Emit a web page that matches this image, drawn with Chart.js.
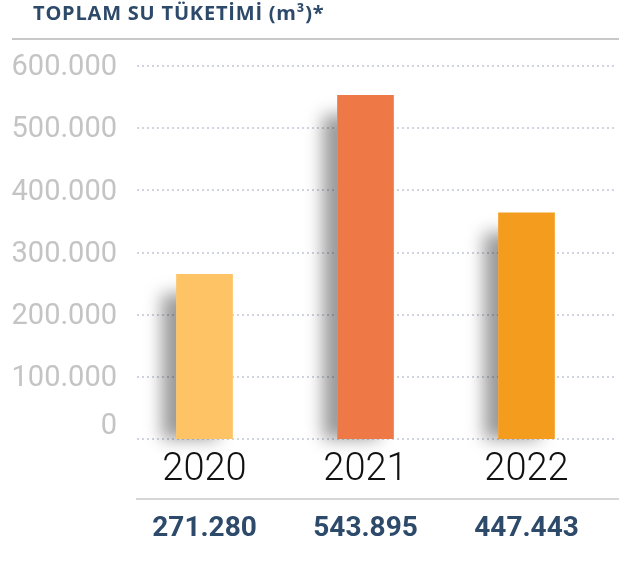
<!DOCTYPE html>
<html>
<head>
<meta charset="utf-8">
<script src="https://cdn.jsdelivr.net/npm/chart.js@4/dist/chart.umd.min.js"></script>
<style>
  body { margin: 0; background: #fff; }
  .wrap { position: relative; width: 619px; height: 568px; }
  .title {
    position: absolute; left: 33px; top: 3px;
    font: bold 20px/20px "Open Sans", sans-serif; color: #2d4a6b;
    letter-spacing: 0.8px;
  }
  .title-line {
    position: absolute; left: 12px; top: 38px; width: 607px; height: 2px;
    background: #c8c8c8;
  }
  canvas { position: absolute; left: 0; top: 0; }
</style>
</head>
<body>
<div class="wrap">
  <canvas id="chart" width="619" height="568"></canvas>
  <div class="title">TOPLAM SU TÜKETİMİ (m³)*</div>
  <div class="title-line"></div>
</div>
<script>
const years = ['2020', '2021', '2022'];
// bar heights as drawn in the picture
const barValues = [265000, 553000, 364000];
// totals printed under the years
const totalLabels = ['271.280', '543.895', '447.443'];
const barColors = ['#fdc364', '#ee7846', '#f49c1d'];

function fmt(v) {
  return String(v).replace(/\B(?=(\d{3})+(?!\d))/g, '.');
}

// dotted grid lines, drawn from the y scale ticks
const dottedGrid = {
  id: 'dottedGrid',
  beforeDatasetsDraw(chart) {
    const ctx = chart.ctx;
    const y = chart.scales.y;
    const left = chart.chartArea.left + 13;
    ctx.save();
    ctx.strokeStyle = '#cfd4de';
    ctx.lineWidth = 2;
    ctx.setLineDash([2, 3]);
    y.ticks.forEach((t) => {
      const py = Math.round(y.getPixelForValue(t.value));
      ctx.beginPath();
      ctx.moveTo(left, py);
      ctx.lineTo(chart.width - 2, py);
      ctx.stroke();
    });
    ctx.restore();

    // soft shadow on the left of each bar
    chart.getDatasetMeta(0).data.forEach((bar) => {
      const l = bar.x - bar.width / 2;
      const top = bar.y + 20;
      ctx.save();
      ctx.shadowColor = 'rgba(0,0,0,0.4)';
      ctx.shadowBlur = 16;
      ctx.shadowOffsetX = -15;
      ctx.fillStyle = '#ffffff';
      ctx.fillRect(l, top, bar.width, bar.base - top);
      ctx.restore();
    });
  },
  afterDraw(chart) {
    // separator between years and totals
    const ctx = chart.ctx;
    const x2 = chart.scales.x2;
    ctx.save();
    ctx.strokeStyle = '#c8c8c8';
    ctx.lineWidth = 1.5;
    ctx.beginPath();
    ctx.moveTo(chart.chartArea.left + 12, x2.top);
    ctx.lineTo(chart.width, x2.top);
    ctx.stroke();
    ctx.restore();
  },
};

new Chart(document.getElementById('chart'), {
  type: 'bar',
  data: {
    labels: years,
    datasets: [
      {
        data: barValues,
        backgroundColor: barColors,
        barThickness: 56,
      },
    ],
  },
  plugins: [dottedGrid],
  options: {
    responsive: false,
    animation: false,
    layout: {
      padding: { left: 0, right: 12, top: 66, bottom: 19 },
    },
    plugins: {
      legend: { display: false },
      tooltip: { enabled: false },
    },
    scales: {
      y: {
        min: 0,
        max: 600000,
        grid: { display: false, drawTicks: false },
        border: { display: false },
        afterFit: (s) => { s.width = 124; },
        ticks: {
          stepSize: 100000,
          padding: 7,
          labelOffset: 2,
          color: '#c4c4c4',
          font: { family: 'Roboto', size: 29, lineHeight: 1 },
          // zero sits a bit above its line, as in the original
          callback: (v) => (v === 0 ? ['0', ''] : fmt(v)),
        },
      },
      x: {
        grid: { display: false, drawTicks: false },
        border: { display: false },
        afterFit: (s) => { s.height = 60; },
        ticks: {
          padding: 9,
          color: '#111111',
          font: { family: 'Roboto', size: 38, weight: '300', lineHeight: 1.2 },
        },
      },
      x2: {
        type: 'category',
        position: 'bottom',
        labels: totalLabels,
        offset: true,
        grid: { display: false, drawTicks: false },
        border: { display: false },
        afterFit: (s) => { s.height = 50; },
        ticks: {
          padding: 13,
          color: '#2d4a6b',
          font: { family: 'Roboto', size: 28, weight: 'bold', lineHeight: 1.2 },
        },
      },
    },
  },
});
</script>
</body>
</html>
